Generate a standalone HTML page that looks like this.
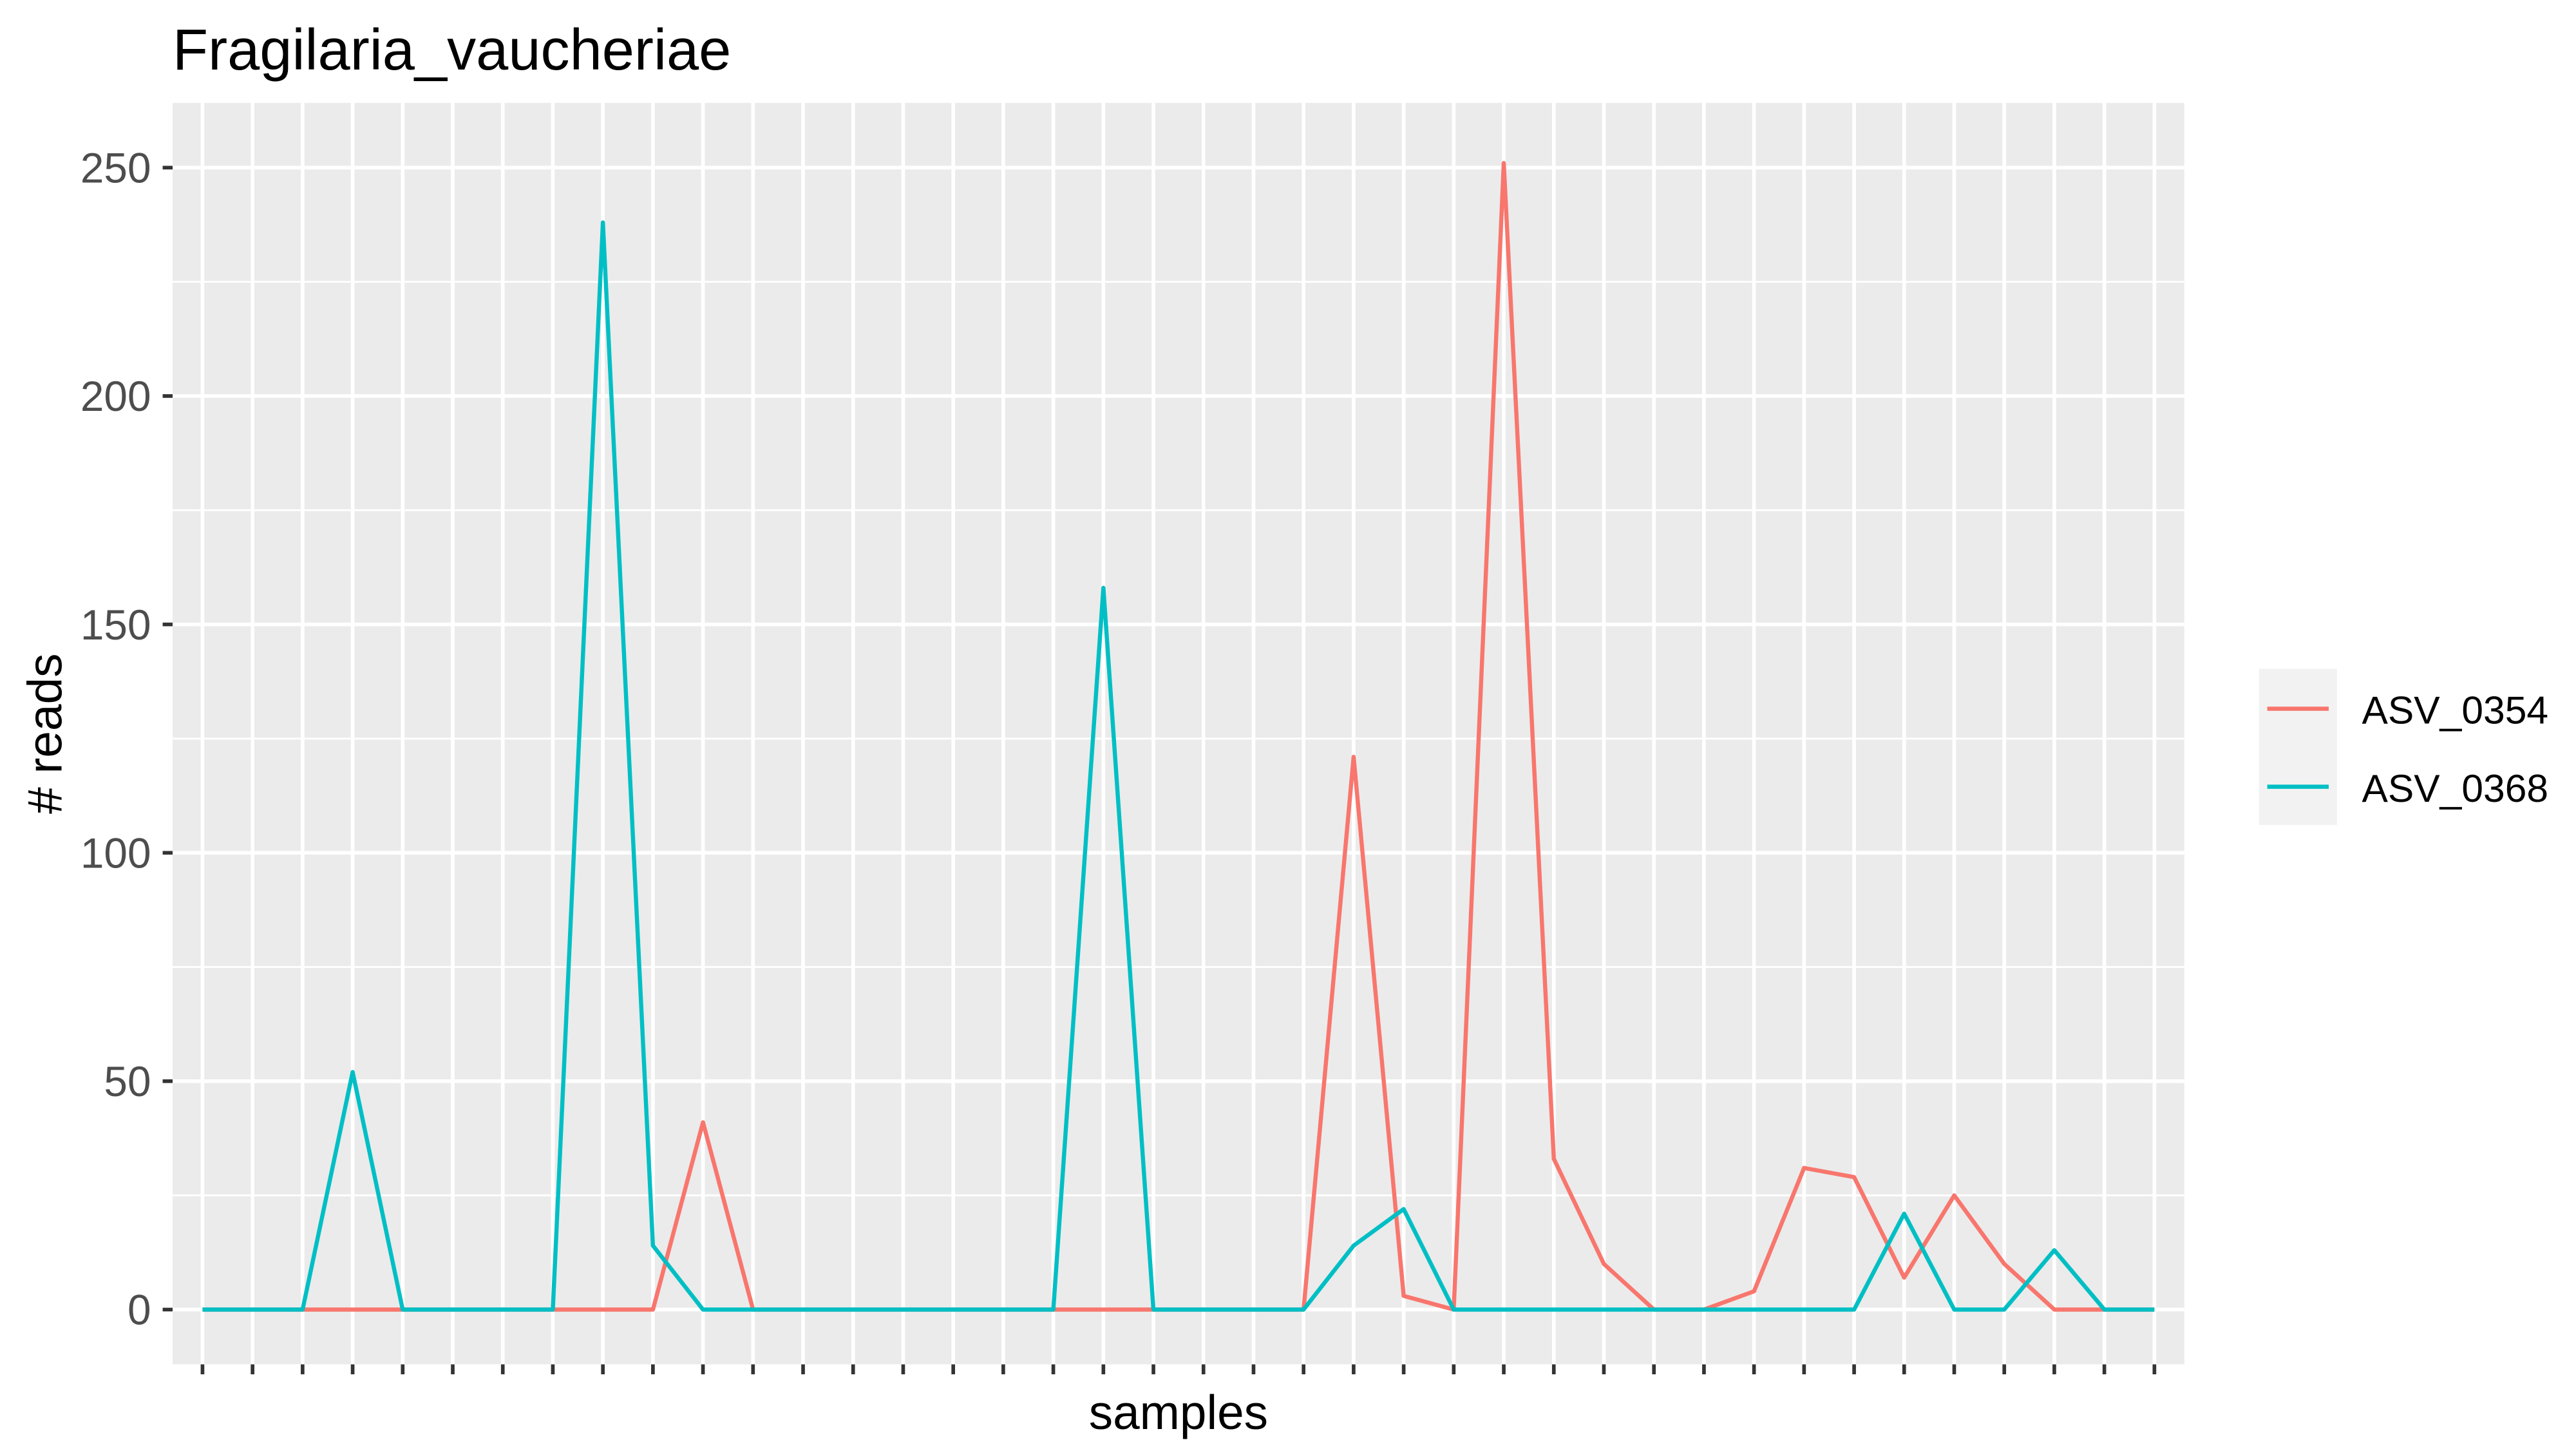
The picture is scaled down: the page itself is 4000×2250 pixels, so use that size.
<!DOCTYPE html>
<html><head><meta charset="utf-8"><style>
html,body{margin:0;padding:0;background:#fff}
svg{display:block}
text{font-family:"Liberation Sans",Arial,sans-serif}
</style></head><body>
<svg id="chart" width="4000" height="2250" viewBox="0 0 1552 873" preserveAspectRatio="none" xmlns="http://www.w3.org/2000/svg">
<rect x="0" y="0" width="1552" height="873" fill="#fff"/>
<text x="104" y="42" font-size="35" fill="#000">Fragilaria_vaucheriae</text>
<rect x="104" y="62" width="1212" height="760" fill="#EBEBEB"/>
<g id="grid"></g>
<g id="axes"></g>
<g id="series"></g>
<text x="710" y="861" font-size="29" text-anchor="middle" fill="#000">samples</text>
<text transform="translate(37,442) rotate(-90)" font-size="29" text-anchor="middle" fill="#000"># reads</text>
<g>
<rect x="1361" y="403" width="47" height="94" fill="#F2F2F2"/>
<line x1="1366" x2="1403" y1="427" y2="427" stroke="#F8766D" stroke-width="2.5"/>
<line x1="1366" x2="1403" y1="474" y2="474" stroke="#00BFC4" stroke-width="2.5"/>
<text x="1423" y="436" font-size="23.5" fill="#000">ASV_0354</text>
<text x="1423" y="483" font-size="23.5" fill="#000">ASV_0368</text>
</g>
</svg>
<script>
const nSamples = 40;
const asv0354 = [0,0,0,0,0,0,0,0,0,0,41,0,0,0,0,0,0,0,0,0,0,0,0,121,3,0,251,33,10,0,0,4,31,29,7,25,10,0,0,0];
const asv0368 = [0,0,0,52,0,0,0,0,238,14,0,0,0,0,0,0,0,0,158,0,0,0,0,14,22,0,0,0,0,0,0,0,0,0,21,0,0,13,0,0];
const yTicks = [0,50,100,150,200,250];
const yMinor = [25,75,125,175,225];
const seriesNames = ["ASV_0354","ASV_0368"];

const NS="http://www.w3.org/2000/svg";
const x0=122, x1=1298;
function xs(i){return x0+(x1-x0)*i/(nSamples-1);}
function ys(v){return 789-(789-101)*v/250;}
function mk(tag,attrs,parent){const e=document.createElementNS(NS,tag);for(const k in attrs)e.setAttribute(k,attrs[k]);parent.appendChild(e);return e;}
const grid=document.getElementById('grid'), axes=document.getElementById('axes'), series=document.getElementById('series');
yMinor.forEach(v=>{const l=mk('line',{x1:104,x2:1316,y1:ys(v),y2:ys(v),stroke:'#fff','stroke-width':1.1},grid);

});
yTicks.forEach(v=>{const l=mk('line',{x1:104,x2:1316,y1:ys(v),y2:ys(v),stroke:'#fff','stroke-width':2.2},grid);


const t=mk('line',{x1:98,x2:104,y1:ys(v),y2:ys(v),stroke:'#333','stroke-width':2.2},axes);


const tx=mk('text',{x:91,y:ys(v)+9,'font-size':25.5,'text-anchor':'end',fill:'#4D4D4D'},axes);tx.textContent=v;

});
for(let i=0;i<nSamples;i++){const l=mk('line',{x1:xs(i),x2:xs(i),y1:62,y2:822,stroke:'#fff','stroke-width':2.2},grid);


const t=mk('line',{x1:xs(i),x2:xs(i),y1:822,y2:828,stroke:'#333','stroke-width':2.2},axes);

}
[[asv0354,'#F8766D','series-asv-0354'],[asv0368,'#00BFC4','series-asv-0368']].forEach(([d,c,n])=>{
const p=mk('polyline',{points:d.map((v,i)=>xs(i)+','+ys(v)).join(' '),fill:'none',stroke:c,'stroke-width':2.5,'stroke-linejoin':'round'},series);

});
</script>
</body></html>
